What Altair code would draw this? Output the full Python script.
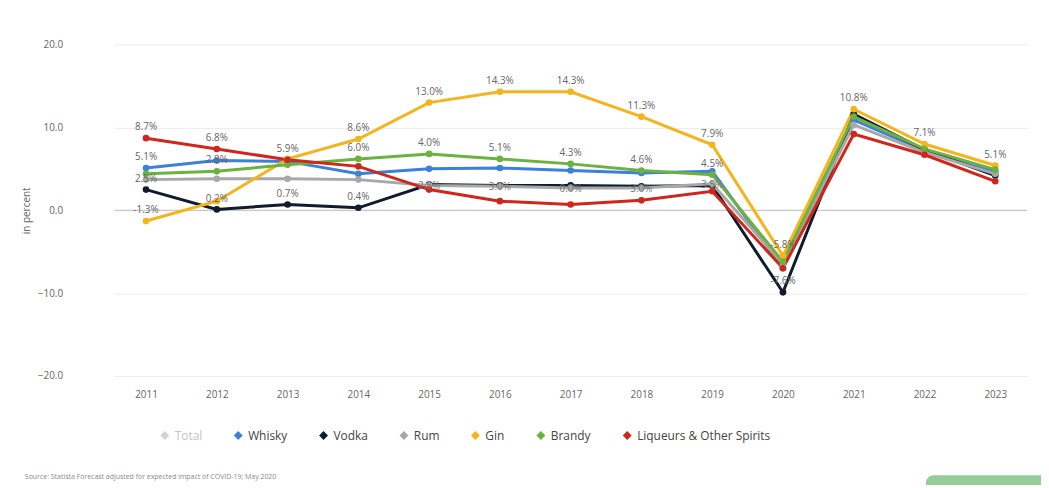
import altair as alt
import pandas as pd

years = [str(y) for y in range(2011, 2024)]

series_names = ["Total", "Whisky", "Vodka", "Rum", "Gin", "Brandy", "Liqueurs & Other Spirits"]
series_colors = ["#d3d3d3", "#3d80d8", "#101c2b", "#a8a8a8", "#f4b51c", "#6cb23e", "#d0261c"]

whisky = [5.1, 6.0, 5.9, 4.4, 5.0, 5.1, 4.8, 4.5, 4.7, -7.0, 10.9, 7.2, 4.6]
vodka = [2.5, 0.1, 0.7, 0.3, 3.1, 3.0, 3.0, 2.9, 3.0, -9.9, 11.6, 7.3, 4.2]
rum = [3.7, 3.8, 3.8, 3.7, 3.0, 2.9, 2.7, 2.7, 3.2, -6.5, 10.3, 7.0, 4.4]
gin = [-1.3, 1.1, 6.2, 8.6, 13.0, 14.3, 14.3, 11.3, 7.9, -5.5, 12.2, 8.0, 5.4]
brandy = [4.4, 4.7, 5.5, 6.2, 6.8, 6.2, 5.6, 4.8, 4.3, -6.2, 11.3, 7.4, 4.9]
liqueurs = [8.7, 7.4, 6.1, 5.3, 2.5, 1.1, 0.7, 1.2, 2.3, -7.0, 9.2, 6.7, 3.5]

whisky_labels = ["5.1%", "", "", "", "", "", "", "", "", "", "", "", ""]
vodka_labels = ["2.5%", "0.2%", "0.7%", "0.4%", "", "", "", "", "", "-7.6%", "", "", ""]
rum_labels = ["", "", "", "", "2.5%", "3.0%", "0.0%", "3.0%", "3.5%", "", "", "", ""]
gin_labels = ["-1.3%", "", "", "8.6%", "13.0%", "14.3%", "14.3%", "11.3%", "7.9%", "-5.8%", "10.8%", "7.1%", "5.1%"]
brandy_labels = ["", "2.8%", "", "6.0%", "4.0%", "5.1%", "4.3%", "4.6%", "4.5%", "", "", "", ""]
liqueurs_labels = ["8.7%", "6.8%", "5.9%", "", "", "", "", "", "", "", "", "", ""]

source_text = "Source: Statista Forecast adjusted for expected impact of COVID-19; May 2020"

rows = []
for name, vals, labs in [
    ("Whisky", whisky, whisky_labels),
    ("Vodka", vodka, vodka_labels),
    ("Rum", rum, rum_labels),
    ("Gin", gin, gin_labels),
    ("Brandy", brandy, brandy_labels),
    ("Liqueurs & Other Spirits", liqueurs, liqueurs_labels),
]:
    for y, v, l in zip(years, vals, labs):
        rows.append({"year": y, "series": name, "value": v, "label": l})
df = pd.DataFrame(rows)

FONT = "Open Sans"

x_enc = alt.X("year:N", sort=years, title=None,
              scale=alt.Scale(type="point", padding=0.45),
              axis=alt.Axis(labelColor="#666666", labelFontSize=10, labelPadding=14,
                            domain=False, ticks=False, grid=False, labelAngle=0, labelFont=FONT))
y_enc = alt.Y("value:Q", title="in percent",
              scale=alt.Scale(domain=[-20, 20], nice=False, zero=False),
              axis=alt.Axis(values=[-20, -10, 0, 10, 20], format=".1f", labelColor="#666666",
                            labelFontSize=10, labelPadding=52, domain=False, ticks=False,
                            grid=True, gridColor="#ececec", gridWidth=1,
                            titleColor="#666666", titleFontSize=10, titleFontWeight="normal",
                            titlePadding=6, titleFont=FONT, labelFont=FONT))
color_enc = alt.Color("series:N",
                      scale=alt.Scale(domain=series_names, range=series_colors),
                      legend=alt.Legend(title=None, orient="none", direction="horizontal",
                                        legendX=45, legendY=388, symbolType="diamond",
                                        symbolSize=80, labelFontSize=12,
                                        labelColor=alt.ExprRef("datum.value === 'Total' ? '#c4c4c4' : '#444444'"),
                                        columnPadding=30, labelFont=FONT, symbolStrokeWidth=0))

base = alt.Chart(df)

zero = alt.Chart(pd.DataFrame({"z": [0]})).mark_rule(color="#bdbdbd", strokeWidth=1).encode(y=alt.Y("z:Q"))

lines = base.mark_line(strokeWidth=3).encode(x=x_enc, y=y_enc, color=color_enc,
                                            detail="series:N")
points = base.mark_point(filled=True, size=45, opacity=1).encode(
    x=alt.X("year:N", sort=years), y="value:Q",
    color=alt.Color("series:N", scale=alt.Scale(domain=series_names, range=series_colors), legend=None))
texts = base.transform_filter("datum.label != '' && datum.series != 'Rum'").mark_text(
    dy=-11, fontSize=10, color="#666666", font=FONT).encode(
    x=alt.X("year:N", sort=years), y="value:Q", text="label:N")
rum_texts = base.transform_filter("datum.label != '' && datum.series == 'Rum'").mark_text(
    dy=1, fontSize=10, color="#777777", font=FONT).encode(
    x=alt.X("year:N", sort=years), y="value:Q", text="label:N")

source = alt.Chart(pd.DataFrame({"t": [source_text]})).mark_text(
    align="left", baseline="middle", fontSize=7, color="#8a8a8a", font=FONT).encode(
    x=alt.value(-90), y=alt.value(436), text="t:N")

button = alt.Chart(pd.DataFrame({"b": [1]})).mark_rect(
    color="#95cd98", cornerRadius=8).encode(
    x=alt.value(818), x2=alt.value(960), y=alt.value(434), y2=alt.value(470))

chart = alt.layer(zero, lines, points, texts, rum_texts, source, button).properties(
    width=920, height=334,
    padding={"left": 107, "top": 35, "right": 14, "bottom": 108},
    autosize=alt.AutoSizeParams(type="none"),
).configure(font=FONT, view=alt.ViewConfig(stroke=None))

chart.save("out.html", embed_options={"renderer": "svg", "actions": False})
